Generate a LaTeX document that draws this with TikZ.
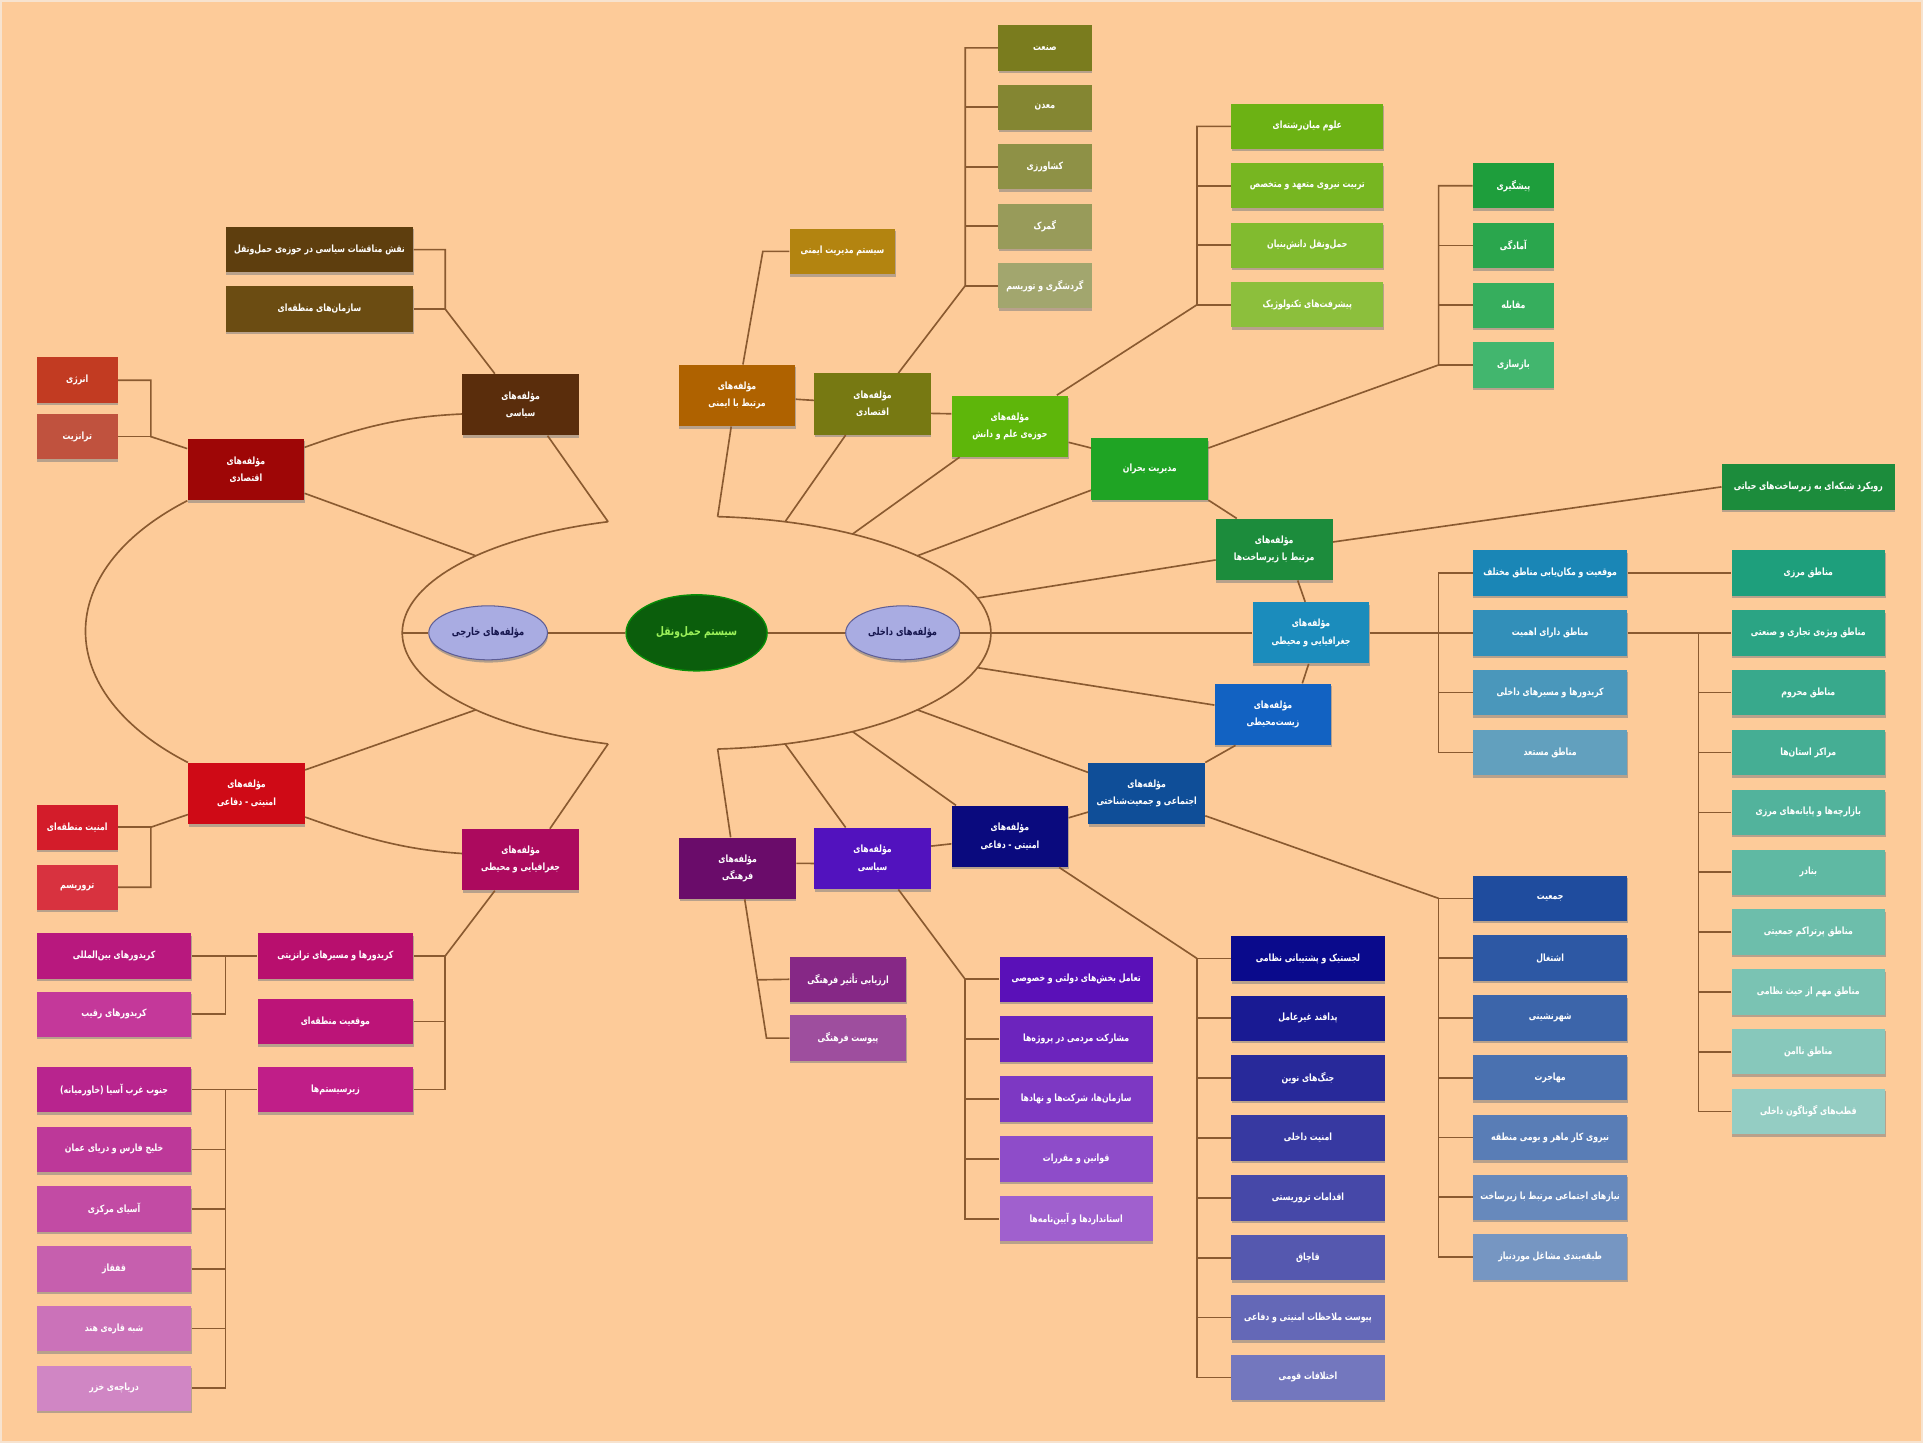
\documentclass[tikz,border=0pt]{standalone}
\usepackage{fontspec}
\usetikzlibrary{calc,shapes.geometric,shadows}
\newfontfamily\farsi[Script=Arabic,FakeStretch=0.78]{DejaVu Sans}
\TeXXeTstate=1

% page and connectors
\definecolor{bgC}{HTML}{FDCB99}
\definecolor{frameC}{HTML}{F7E3CF}
\definecolor{wireC}{HTML}{8A5A30}
% centre
\definecolor{hubC}{HTML}{0B5E0C}
\definecolor{hubT}{HTML}{9CF25A}
\definecolor{subC}{HTML}{A9ACE2}
\definecolor{subD}{HTML}{5E5E96}
\definecolor{subT}{HTML}{16164E}
% external side
\definecolor{ePol}{HTML}{5A2D0C}
\definecolor{ePolA}{HTML}{5E3E0E}
\definecolor{ePolB}{HTML}{6B4C12}
\definecolor{eEco}{HTML}{9E0606}
\definecolor{eEcoA}{HTML}{C23B22}
\definecolor{eEcoB}{HTML}{C0523E}
\definecolor{eSec}{HTML}{CF0A16}
\definecolor{eSecA}{HTML}{D31C2A}
\definecolor{eSecB}{HTML}{D8323F}
\definecolor{eGeo}{HTML}{AC0A5E}
\definecolor{eGeoA}{HTML}{B80F6E}
\definecolor{eGeoB}{HTML}{BC1478}
\definecolor{eGeoC}{HTML}{C01E88}
\definecolor{eCorA}{HTML}{B8187E}
\definecolor{eCorB}{HTML}{C4389A}
\definecolor{eRegA}{HTML}{B8248E}
\definecolor{eRegB}{HTML}{D086C4}
% internal side
\definecolor{iSaf}{HTML}{AF6200}
\definecolor{iSafA}{HTML}{B38410}
\definecolor{iEco}{HTML}{777912}
\definecolor{iEcoA}{HTML}{7A7C1E}
\definecolor{iEcoB}{HTML}{A2A66E}
\definecolor{iSci}{HTML}{5EB60A}
\definecolor{iSciA}{HTML}{6CB214}
\definecolor{iSciB}{HTML}{8CBF3C}
\definecolor{iCri}{HTML}{1FA424}
\definecolor{iCriA}{HTML}{1E9E3C}
\definecolor{iCriB}{HTML}{42B66E}
\definecolor{iInf}{HTML}{1C8C3C}
\definecolor{iGeo}{HTML}{1B8CBC}
\definecolor{iGeoA}{HTML}{1A86B6}
\definecolor{iGeoB}{HTML}{62A0BE}
\definecolor{iZonA}{HTML}{1E9F7C}
\definecolor{iZonB}{HTML}{94CDC3}
\definecolor{iEnv}{HTML}{1262C2}
\definecolor{iSoc}{HTML}{0F4E98}
\definecolor{iSocA}{HTML}{1F4C9E}
\definecolor{iSocB}{HTML}{7696C2}
\definecolor{iDef}{HTML}{0A0A7E}
\definecolor{iDefA}{HTML}{0A0A8C}
\definecolor{iDefB}{HTML}{7478BE}
\definecolor{iPol}{HTML}{5212BE}
\definecolor{iPolA}{HTML}{5A10B8}
\definecolor{iPolB}{HTML}{A060CE}
\definecolor{iCul}{HTML}{6A0C6A}
\definecolor{iCulA}{HTML}{862886}
\definecolor{iCulB}{HTML}{9E4E9E}

\begin{document}
\begin{tikzpicture}[x=0.025cm,y=-0.025cm,
  wire/.style={draw=wireC, line width=0.95pt},
  part/.style={rectangle, minimum width=2.375cm, minimum height=1.25cm,
    text=white, align=center, inner sep=1pt,
    font=\farsi\bfseries\fontsize{5.8}{10}\selectfont,
    drop shadow={shadow xshift=0.3pt, shadow yshift=-1.4pt, opacity=0.55}},
  leaf/.style={part, minimum height=0.925cm},
  hub/.style={ellipse, minimum width=2.875cm, minimum height=1.55cm,
    fill=hubC, draw=hubC!70!green, line width=0.8pt, text=hubT,
    font=\farsi\bfseries\fontsize{6.8}{10}\selectfont},
  sub/.style={ellipse, minimum width=2.3cm, minimum height=1.1cm,
    fill=subC, draw=subD, line width=0.6pt, text=subT,
    font=\farsi\bfseries\fontsize{6.2}{10}\selectfont,
    drop shadow={shadow xshift=0.3pt, shadow yshift=-1.6pt, opacity=0.6}}
]
\fill[bgC] (0,0) rectangle (1568,1177);
\draw[frameC, line width=1.2pt] (1,1) rectangle (1567,1176);
\useasboundingbox (0,0) rectangle (1568,1177);

% ---------------- centre ----------------
\node[hub] (sys) at (568,516) {\beginR سیستم حمل‌ونقل\endR};
\node[sub] (ext) at (398,516) {\beginR مؤلفه‌های خارجی\endR};
\node[sub] (int) at (736,516) {\beginR مؤلفه‌های داخلی\endR};

% points on the two arcs round the centre
\coordinate (Lmid) at ($(sys.center)+(-240,0)$);
\coordinate (VL1)  at ($(sys.center)+({240*cos(107.5)},{-95*sin(107.5)})$);
\coordinate (aL1)  at ($(sys.center)+({240*cos(138.6)},{-95*sin(138.6)})$);
\coordinate (aL2)  at ($(sys.center)+({240*cos(138.6)},{95*sin(138.6)})$);
\coordinate (VL2)  at ($(sys.center)+({240*cos(107.5)},{95*sin(107.5)})$);
\foreach \a [count=\i] in {85.9,72.5,58,41.4,17.4}{
  \coordinate (aR\i) at ($(sys.center)+({240*cos(\a)},{-95*sin(\a)})$);
  \coordinate (bR\i) at ($(sys.center)+({240*cos(\a)},{95*sin(\a)})$);
}

% ---------------- external components ----------------
\node[part, fill=ePol] (epol) at (424.5,330) {\beginR مؤلفه‌های\endR\\\beginR سیاسی\endR};
\node[part, fill=eEco] (eeco) at (200.5,383) {\beginR مؤلفه‌های\endR\\\beginR اقتصادی\endR};
\node[part, fill=eSec] (esec) at (201,647) {\beginR مؤلفه‌های\endR\\\beginR امنیتی - دفاعی\endR};
\node[part, fill=eGeo] (egeo) at (424.5,701) {\beginR مؤلفه‌های\endR\\\beginR جغرافیایی و محیطی\endR};

\node[leaf, minimum width=3.825cm, fill=ePolA] (epolA) at (260.5,203.5) {\beginR نقش مناقشات سیاسی در حوزه‌ی حمل‌ونقل\endR};
\node[leaf, minimum width=3.825cm, fill=ePolB] (epolB) at (260.5,252) {\beginR سازمان‌های منطقه‌ای\endR};

\node[leaf, minimum width=1.65cm, fill=eEcoA] (eecoA) at (63,310) {\beginR انرژی\endR};
\node[leaf, minimum width=1.65cm, fill=eEcoB] (eecoB) at (63,356) {\beginR ترانزیت\endR};

\node[leaf, minimum width=1.65cm, fill=eSecA] (esecA) at (63,674.5) {\beginR امنیت منطقه‌ای\endR};
\node[leaf, minimum width=1.65cm, fill=eSecB] (esecB) at (63,723.5) {\beginR تروریسم\endR};

\node[leaf, minimum width=3.175cm, fill=eGeoA] (egeoA) at (273.5,779.5) {\beginR کریدورها و مسیرهای ترانزیتی\endR};
\node[leaf, minimum width=3.175cm, fill=eGeoB] (egeoB) at (273.5,833) {\beginR موقعیت منطقه‌ای\endR};
\node[leaf, minimum width=3.175cm, fill=eGeoC] (egeoC) at (273.5,888.5) {\beginR زیرسیستم‌ها\endR};

\node[leaf, minimum width=3.15cm, fill=eCorA] (corA) at (93,779.5) {\beginR کریدورهای بین‌المللی\endR};
\node[leaf, minimum width=3.15cm, fill=eCorB] (corB) at (93,827) {\beginR کریدورهای رقیب\endR};

\foreach \t [count=\k from 0] in {{\beginR جنوب غرب آسیا (خاورمیانه)\endR},{\beginR خلیج فارس و دریای عمان\endR},{\beginR آسیای مرکزی\endR},{\beginR قفقاز\endR},{\beginR شبه قاره‌ی هند\endR},{\beginR دریاچه‌ی خزر\endR}}{
  \pgfmathsetmacro\p{100-20*\k}
  \node[leaf, minimum width=3.15cm, fill=eRegA!\p!eRegB] (reg\k) at (93,{888.5+48.7*\k}) {\t};
}

% external connectors
\draw[wire] plot[domain=107.5:252.5, samples=80] ({568+240*cos(\x)},{516-95*sin(\x)});
\draw[wire] (Lmid) -- (ext);
\draw[wire] (ext) -- (sys);
\draw[wire] ($(epol.south west)!0.73!(epol.south east)$) -- (VL1);
\draw[wire] ($(eeco.north east)!0.88!(eeco.south east)$) -- (aL1);
\draw[wire] ($(eeco.north east)!0.14!(eeco.south east)$) .. controls +(50,-18) and +(-45,2) .. ($(epol.north west)!0.65!(epol.south west)$);
\draw[wire] (eeco.south west) .. controls +(-111,57) and +(-111,-57) .. (esec.north west);
\draw[wire] ($(esec.north east)!0.12!(esec.south east)$) -- (aL2);
\draw[wire] ($(esec.north east)!0.88!(esec.south east)$) .. controls +(50,18) and +(-45,-3) .. ($(egeo.north west)!0.4!(egeo.south west)$);
\draw[wire] ($(egeo.north west)!0.75!(egeo.north east)$) -- (VL2);

\coordinate (epolBus) at (363,252);
\draw[wire] (epolA.east) -| (epolBus) -- ($(epol.north west)!0.28!(epol.north east)$);
\draw[wire] (epolB.east) -- (epolBus);

\coordinate (eecoBus) at (123,356);
\draw[wire] (eecoA.east) -| (eecoBus) -- ($(eeco.north west)!0.16!(eeco.south west)$);
\draw[wire] (eecoB.east) -- (eecoBus);

\coordinate (esecBus) at (123,674.5);
\draw[wire] (esecB.east) -| (esecBus) -- ($(esec.north west)!0.84!(esec.south west)$);
\draw[wire] (esecA.east) -- (esecBus);

\coordinate (egeoBus) at (363,779.5);
\draw[wire] ($(egeo.south west)!0.28!(egeo.south east)$) -- (egeoBus);
\draw[wire] (egeoA.east) -- (egeoBus) |- (egeoC.east);
\draw[wire] (egeoB.east) -- (egeoB.east -| egeoBus);

\coordinate (corBus) at (184,779.5);
\draw[wire] (corA.east) -- (egeoA.west);
\draw[wire] (corB.east) -| (corBus);

\coordinate (regBus) at (184,888.5);
\draw[wire] (reg0.east) -- (egeoC.west);
\draw[wire] (regBus) |- (reg5.east);
\foreach \k in {1,...,4} \draw[wire] (reg\k.east) -- (reg\k.east -| regBus);

% ---------------- internal components ----------------
\node[part, fill=iSaf] (isaf) at (601,322.5) {\beginR مؤلفه‌های\endR\\\beginR مرتبط با ایمنی\endR};
\node[part, fill=iEco] (ieco) at (711.5,329.5) {\beginR مؤلفه‌های\endR\\\beginR اقتصادی\endR};
\node[part, fill=iSci] (isci) at (823.5,347.5) {\beginR مؤلفه‌های\endR\\\beginR حوزه‌ی علم و دانش\endR};
\node[part, fill=iCri] (icri) at (937.5,382.5) {\beginR مدیریت بحران\endR};
\node[part, fill=iInf] (iinf) at (1039,448) {\beginR مؤلفه‌های\endR\\\beginR مرتبط با زیرساخت‌ها\endR};
\node[part, fill=iGeo] (igeo) at (1069,516) {\beginR مؤلفه‌های\endR\\\beginR جغرافیایی و محیطی\endR};
\node[part, fill=iEnv] (ienv) at (1038,582.5) {\beginR مؤلفه‌های\endR\\\beginR زیست‌محیطی\endR};
\node[part, fill=iSoc] (isoc) at (935,647) {\beginR مؤلفه‌های\endR\\\beginR اجتماعی و جمعیت‌شناختی\endR};
\node[part, fill=iDef] (idef) at (823.5,682) {\beginR مؤلفه‌های\endR\\\beginR امنیتی - دفاعی\endR};
\node[part, fill=iPol] (ipol) at (711.5,700) {\beginR مؤلفه‌های\endR\\\beginR سیاسی\endR};
\node[part, fill=iCul] (icul) at (601.5,708) {\beginR مؤلفه‌های\endR\\\beginR فرهنگی\endR};

\node[leaf, minimum width=2.15cm, fill=iSafA] (isafA) at (687,205) {\beginR سیستم مدیریت ایمنی\endR};
\node[leaf, minimum width=3.525cm, fill=iInf] (iinfA) at (1474.5,397) {\beginR رویکرد شبکه‌ای به زیرساخت‌های حیاتی\endR};

\foreach \t [count=\k from 0] in {{\beginR صنعت\endR},{\beginR معدن\endR},{\beginR کشاورزی\endR},{\beginR گمرک\endR},{\beginR گردشگری و توریسم\endR}}{
  \pgfmathsetmacro\p{100-25*\k}
  \node[leaf, minimum width=1.9cm, fill=iEcoA!\p!iEcoB] (ec\k) at (852,{39+48.5*\k}) {\t};
}
\foreach \t [count=\k from 0] in {{\beginR علوم میان‌رشته‌ای\endR},{\beginR تربیت نیروی متعهد و متخصص\endR},{\beginR حمل‌ونقل دانش‌بنیان\endR},{\beginR پیشرفت‌های تکنولوژیک\endR}}{
  \pgfmathsetmacro\p{100-33.3*\k}
  \node[leaf, minimum width=3.1cm, fill=iSciA!\p!iSciB] (sc\k) at (1066,{103+48.5*\k}) {\t};
}
\foreach \t [count=\k from 0] in {{\beginR پیشگیری\endR},{\beginR آمادگی\endR},{\beginR مقابله\endR},{\beginR بازسازی\endR}}{
  \pgfmathsetmacro\p{100-33.3*\k}
  \node[leaf, minimum width=1.65cm, fill=iCriA!\p!iCriB] (cr\k) at (1234,{151.5+48.7*\k}) {\t};
}
\foreach \t [count=\k from 0] in {{\beginR موقعیت و مکان‌یابی مناطق مختلف\endR},{\beginR مناطق دارای اهمیت\endR},{\beginR کریدورها و مسیرهای داخلی\endR},{\beginR مناطق مستعد\endR}}{
  \pgfmathsetmacro\p{100-33.3*\k}
  \node[leaf, minimum width=3.15cm, fill=iGeoA!\p!iGeoB] (gg\k) at (1264,{467.2+48.8*\k}) {\t};
}
\foreach \t [count=\k from 0] in {{\beginR مناطق مرزی\endR},{\beginR مناطق ویژه‌ی تجاری و صنعتی\endR},{\beginR مناطق محروم\endR},{\beginR مراکز استان‌ها\endR},{\beginR بازارچه‌ها و پایانه‌های مرزی\endR},{\beginR بنادر\endR},{\beginR مناطق پرتراکم جمعیتی\endR},{\beginR مناطق مهم از حیث نظامی\endR},{\beginR مناطق ناامن\endR},{\beginR قطب‌های گوناگون داخلی\endR}}{
  \pgfmathsetmacro\p{100-11.1*\k}
  \node[leaf, minimum width=3.125cm, fill=iZonA!\p!iZonB] (gz\k) at (1474.5,{467.2+48.8*\k}) {\t};
}
\foreach \t [count=\k from 0] in {{\beginR جمعیت\endR},{\beginR اشتغال\endR},{\beginR شهرنشینی\endR},{\beginR مهاجرت\endR},{\beginR نیروی کار ماهر و بومی منطقه\endR},{\beginR نیازهای اجتماعی مرتبط با زیرساخت\endR},{\beginR طبقه‌بندی مشاغل موردنیاز\endR}}{
  \pgfmathsetmacro\p{100-16.6*\k}
  \node[leaf, minimum width=3.15cm, fill=iSocA!\p!iSocB] (so\k) at (1264,{732.5+48.75*\k}) {\t};
}
\foreach \t [count=\k from 0] in {{\beginR لجستیک و پشتیبانی نظامی\endR},{\beginR پدافند غیرعامل\endR},{\beginR جنگ‌های نوین\endR},{\beginR امنیت داخلی\endR},{\beginR اقدامات تروریستی\endR},{\beginR قاچاق\endR},{\beginR پیوست ملاحظات امنیتی و دفاعی\endR},{\beginR اختلافات قومی\endR}}{
  \pgfmathsetmacro\p{100-14.2*\k}
  \node[leaf, minimum width=3.125cm, fill=iDefA!\p!iDefB] (de\k) at (1066.5,{781.5+48.8*\k}) {\t};
}
\foreach \t [count=\k from 0] in {{\beginR تعامل بخش‌های دولتی و خصوصی\endR},{\beginR مشارکت مردمی در پروژه‌ها\endR},{\beginR سازمان‌ها، شرکت‌ها و نهادها\endR},{\beginR قوانین و مقررات\endR},{\beginR استانداردها و آیین‌نامه‌ها\endR}}{
  \pgfmathsetmacro\p{100-25*\k}
  \node[leaf, minimum width=3.125cm, fill=iPolA!\p!iPolB] (po\k) at (877.5,{798.5+48.8*\k}) {\t};
}
\node[leaf, minimum width=2.375cm, fill=iCulA] (cu0) at (691.5,798.5) {\beginR ارزیابی تأثیر فرهنگی\endR};
\node[leaf, minimum width=2.375cm, fill=iCulB] (cu1) at (691.5,846.5) {\beginR پیوست فرهنگی\endR};

% internal connectors
\draw[wire] plot[domain=-85.9:85.9, samples=80] ({568+240*cos(\x)},{516-95*sin(\x)});
\draw[wire] (sys) -- (int);
\draw[wire] (int.east) -- (int.east -| igeo.west);

\draw[wire] ($(isaf.south west)!0.45!(isaf.south east)$) -- (aR1);
\draw[wire] ($(ieco.south west)!0.27!(ieco.south east)$) -- (aR2);
\draw[wire] ($(isci.south west)!0.07!(isci.south east)$) -- (aR3);
\draw[wire] ($(icri.north west)!0.84!(icri.south west)$) -- (aR4);
\draw[wire] ($(iinf.north west)!0.67!(iinf.south west)$) -- (aR5);
\draw[wire] ($(ienv.north west)!0.35!(ienv.south west)$) -- (bR5);
\draw[wire] ($(isoc.north west)!0.16!(isoc.south west)$) -- (bR4);
\draw[wire] ($(idef.north west)!0.04!(idef.north east)$) -- (bR3);
\draw[wire] ($(ipol.north west)!0.27!(ipol.north east)$) -- (bR2);
\draw[wire] ($(icul.north west)!0.44!(icul.north east)$) -- (bR1);

% chain between neighbouring components
\draw[wire] (isaf) -- (ieco);
\draw[wire] ($(ieco.north east)!0.65!(ieco.south east)$) -- ($(isci.north west)!0.3!(isci.south west)$);
\draw[wire] ($(isci.north east)!0.76!(isci.south east)$) -- ($(icri.north west)!0.16!(icri.south west)$);
\draw[wire] (icri.south east) -- ($(iinf.north west)!0.18!(iinf.north east)$);
\draw[wire] ($(iinf.south west)!0.7!(iinf.south east)$) -- ($(igeo.north west)!0.45!(igeo.north east)$);
\draw[wire] ($(igeo.south west)!0.48!(igeo.south east)$) -- ($(ienv.north west)!0.75!(ienv.north east)$);
\draw[wire] ($(ienv.south west)!0.18!(ienv.south east)$) -- (isoc.north east);
\draw[wire] ($(isoc.north west)!0.8!(isoc.south west)$) -- ($(idef.north east)!0.2!(idef.south east)$);
\draw[wire] ($(idef.north west)!0.62!(idef.south west)$) -- ($(ipol.north east)!0.3!(ipol.south east)$);
\draw[wire] ($(ipol.north west)!0.58!(ipol.south west)$) -- ($(icul.north east)!0.42!(icul.south east)$);

% safety
\coordinate (isafK) at (622,205);
\draw[wire] ($(isaf.north west)!0.55!(isaf.north east)$) -- (isafK) -- (isafA.west);
% economy
\coordinate (ecBus) at (787,233);
\draw[wire] (ec0.west) -| (ecBus) -- ($(ieco.north west)!0.72!(ieco.north east)$);
\foreach \k in {1,...,4} \draw[wire] (ec\k.west) -- (ec\k.west -| ecBus);
% science
\coordinate (scBus) at (976,248.5);
\draw[wire] (sc0.west) -| (scBus) -- ($(isci.north west)!0.9!(isci.north east)$);
\foreach \k in {1,2,3} \draw[wire] (sc\k.west) -- (sc\k.west -| scBus);
% crisis management
\coordinate (crBus) at (1173,297.6);
\draw[wire] (cr0.west) -| (crBus) -- ($(icri.north east)!0.16!(icri.south east)$);
\foreach \k in {1,2,3} \draw[wire] (cr\k.west) -- (cr\k.west -| crBus);
% infrastructure
\draw[wire] ($(iinf.north east)!0.38!(iinf.south east)$) -- (iinfA.west);
% geography
\coordinate (ggBus) at (1173,467.2);
\draw[wire] (gg0.west) -- (ggBus) |- (gg3.west);
\draw[wire] (igeo.east) -- (gg1.west);
\draw[wire] (gg2.west) -- (gg2.west -| ggBus);
\draw[wire] (gg0.east) -- (gz0.west);
\draw[wire] (gg1.east) -- (gz1.west);
\coordinate (gzBus) at (1385,516);
\draw[wire] (gzBus) |- (gz9.west);
\foreach \k in {2,...,8} \draw[wire] (gz\k.west) -- (gz\k.west -| gzBus);
% society
\coordinate (soBus) at (1173,732.5);
\draw[wire] ($(isoc.north east)!0.86!(isoc.south east)$) -- (soBus);
\draw[wire] (so0.west) -- (soBus) |- (so6.west);
\foreach \k in {1,...,5} \draw[wire] (so\k.west) -- (so\k.west -| soBus);
% security and defence
\coordinate (deBus) at (976,781.5);
\draw[wire] ($(idef.south west)!0.92!(idef.south east)$) -- (deBus);
\draw[wire] (de0.west) -- (deBus) |- (de7.west);
\foreach \k in {1,...,6} \draw[wire] (de\k.west) -- (de\k.west -| deBus);
% politics
\coordinate (poBus) at (787,798.5);
\draw[wire] ($(ipol.south west)!0.72!(ipol.south east)$) -- (poBus);
\draw[wire] (po0.west) -- (poBus) |- (po4.west);
\foreach \k in {1,2,3} \draw[wire] (po\k.west) -- (po\k.west -| poBus);
% culture
\coordinate (cuTop) at ($(icul.south west)!0.56!(icul.south east)$);
\coordinate (cuK) at (625,846.5);
\draw[wire] (cuTop) -- (cuK) -- (cu1.west);
\draw[wire] (cu0.west) -- ($(cuTop)!0.58!(cuK)$);
\end{tikzpicture}
\end{document}
